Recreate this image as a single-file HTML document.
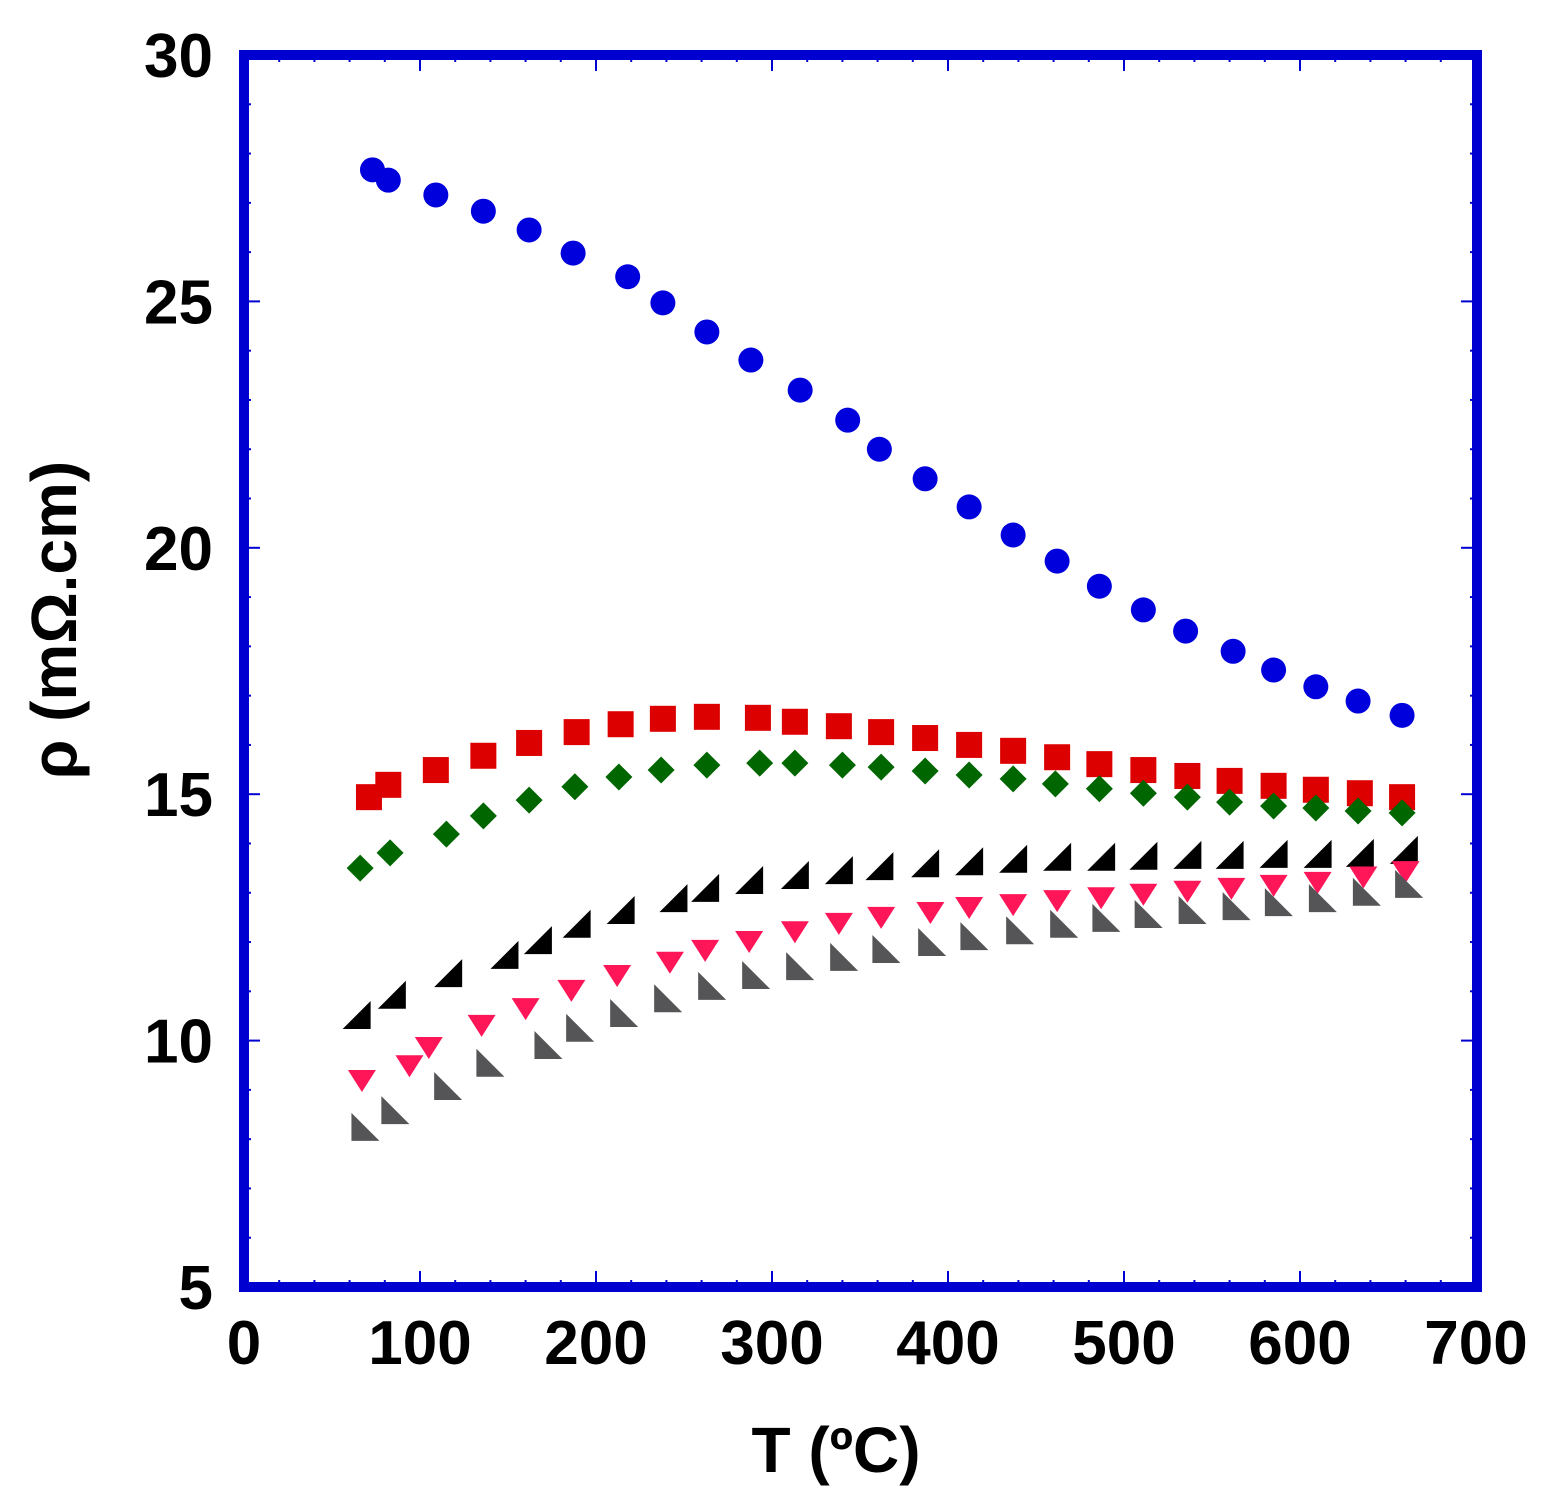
<!DOCTYPE html>
<html><head><meta charset="utf-8"><style>
body{margin:0;background:#fff;}
svg{display:block;}
text{font-family:"Liberation Sans",Arial,sans-serif;font-weight:bold;fill:#000;}
</style></head><body>
<svg id="chart" width="1553" height="1510" viewBox="0 0 1553 1510" xmlns="http://www.w3.org/2000/svg">
<g id="ticks"></g>
<g id="marks"></g>
<rect x="244" y="55" width="1233" height="1232" fill="none" stroke="#0000d0" stroke-width="10"/>
<text x="836" y="1472" font-size="64" text-anchor="middle">T (ºC)</text>
<text transform="translate(76,620) rotate(-90)" font-size="64" text-anchor="middle">ρ (mΩ.cm)</text>
</svg>
<script>
const xTicks=[0,100,200,300,400,500,600,700];
const yTicks=[5,10,15,20,25,30];
const xBlue=[73,82,109,136,162,187,218,238,263,288,316,343,361,387,412,437,462,486,511,535,562,585,609,633,658];
const yBlue=[27.67,27.46,27.16,26.83,26.45,25.98,25.5,24.97,24.38,23.81,23.2,22.59,22.0,21.4,20.83,20.26,19.73,19.22,18.74,18.31,17.9,17.52,17.18,16.89,16.6];
const xRed=[71,82,109,136,162,189,214,238,263,292,313,338,362,387,412,437,462,486,511,536,560,585,609,634,658];
const yRed=[14.94,15.19,15.49,15.78,16.04,16.26,16.42,16.53,16.57,16.55,16.47,16.38,16.26,16.14,16.0,15.88,15.75,15.61,15.49,15.37,15.27,15.17,15.09,15.02,14.94];
const xGreen=[66,83,115,136,162,188,213,237,263,293,313,340,362,387,412,437,461,486,511,536,560,585,609,633,658];
const yGreen=[13.5,13.81,14.19,14.56,14.88,15.15,15.35,15.49,15.59,15.63,15.63,15.59,15.55,15.47,15.39,15.31,15.21,15.11,15.02,14.94,14.84,14.76,14.72,14.66,14.62];
const xBlack=[64,84,116,148,167,189,214,244,262,287,313,338,361,387,412,437,462,487,511,536,560,585,610,634,659];
const yBlack=[10.52,10.93,11.37,11.74,12.04,12.37,12.65,12.89,13.1,13.26,13.36,13.46,13.54,13.6,13.64,13.69,13.73,13.73,13.75,13.77,13.77,13.79,13.79,13.81,13.87];
const xPink=[67,94,105,135,160,186,212,242,262,287,313,338,362,390,412,437,462,487,511,536,561,585,610,636,660];
const yPink=[9.2,9.5,9.87,10.32,10.66,11.03,11.33,11.6,11.84,12.02,12.22,12.39,12.51,12.61,12.71,12.77,12.85,12.91,12.98,13.04,13.1,13.16,13.22,13.33,13.44];
const xGray=[69,86,116,140,173,191,216,241,266,291,316,341,365,391,415,441,466,490,514,539,564,588,613,638,662];
const yGray=[8.25,8.59,9.08,9.55,9.91,10.26,10.56,10.86,11.11,11.33,11.51,11.7,11.86,12.0,12.12,12.24,12.37,12.49,12.57,12.65,12.73,12.81,12.89,13.02,13.18];

const NS='http://www.w3.org/2000/svg';
const X=v=>244+v*1.76;
const Y=v=>55+(30-v)*49.28;
const tg=document.getElementById('ticks'), mg=document.getElementById('marks');
function mk(tag,attrs,parent){const e=document.createElementNS(NS,tag);for(const k in attrs)e.setAttribute(k,attrs[k]);parent.appendChild(e);return e;}
for(let v=0;v<=700;v+=20){
  const L=(v%100===0)?16:7;
  let t=mk('line',{x1:X(v),x2:X(v),y1:1287,y2:1287-L,stroke:'#0000d0','stroke-width':2},tg);
  
  
  t=mk('line',{x1:X(v),x2:X(v),y1:55,y2:55+L,stroke:'#0000d0','stroke-width':2},tg);
  
  
}
for(let v=5;v<=30;v+=1){
  const L=(v%5===0)?16:7;
  let t=mk('line',{x1:244,x2:244+L,y1:Y(v),y2:Y(v),stroke:'#0000d0','stroke-width':2},tg);
  
  
  t=mk('line',{x1:1477,x2:1477-L,y1:Y(v),y2:Y(v),stroke:'#0000d0','stroke-width':2},tg);
  
  
}
xTicks.forEach(v=>{
  const t=mk('text',{x:X(v),y:1364,'font-size':62,'text-anchor':'middle'},tg);t.textContent=v;
  
  
});
yTicks.forEach(v=>{
  const t=mk('text',{x:213,y:Y(v)+22,'font-size':62,'text-anchor':'end'},tg);t.textContent=v;
  
  
});
function series(xs,ys,name,draw){xs.forEach((xv,i)=>{const e=draw(X(xv),Y(ys[i]));
  
  });}
series(xBlue,yBlue,'blue-circle-point',(x,y)=>mk('circle',{cx:x,cy:y,r:12.5,fill:'#0000dd'},mg));
series(xRed,yRed,'red-square-point',(x,y)=>mk('rect',{x:x-13,y:y-13,width:26,height:26,fill:'#dd0000'},mg));
series(xGreen,yGreen,'green-diamond-point',(x,y)=>mk('polygon',{points:`${x},${y-13.5} ${x+13.5},${y} ${x},${y+13.5} ${x-13.5},${y}`,fill:'#006600'},mg));
series(xBlack,yBlack,'black-triangle-point',(x,y)=>mk('polygon',{points:`${x-14},${y+14} ${x+14},${y+14} ${x+14},${y-14}`,fill:'#000'},mg));
series(xPink,yPink,'pink-down-triangle-point',(x,y)=>mk('polygon',{points:`${x-14},${y-10} ${x+14},${y-10} ${x},${y+12}`,fill:'#ff1658'},mg));
series(xGray,yGray,'gray-triangle-point',(x,y)=>mk('polygon',{points:`${x-14},${y-14} ${x-14},${y+14} ${x+14},${y+14}`,fill:'#555558'},mg));
</script>
</body></html>
